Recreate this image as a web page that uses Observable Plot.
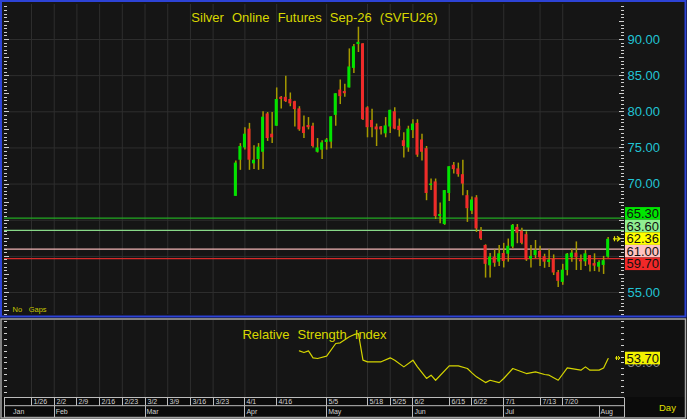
<!DOCTYPE html>
<html>
<head>
<meta charset="utf-8">
<script src="https://cdn.jsdelivr.net/npm/d3@7"></script>
<script src="https://cdn.jsdelivr.net/npm/@observablehq/plot@0.6"></script>
<style>
  html, body { margin:0; padding:0; background:#0d0d0d; }
  #wrap { position:relative; width:687px; height:419px; overflow:hidden; background:#0d0d0d; font-family:"Liberation Sans", Arial, sans-serif; }
  #wrap > svg { position:absolute; left:0; margin:0; display:block; }
  #wrap svg text { word-spacing:4.5px; font-family:"Liberation Sans", Arial, sans-serif; }
</style>
</head>
<body>
<div id="wrap"></div>
<script>
// ---------------- data ----------------
const chartTitle = "Silver Online Futures Sep-26 (SVFU26)";
const rsiTitle = "Relative Strength Index";

// trading-day index of the first candle (1/26 = day 0)
const firstDay = 45;
const opens  = [68.3,73.3,75.0,77.6,72.8,73.4,74.4,79.7,76.9,78.0,82.0,82.0,81.7,81.4,80.4,77.9,78.1,78.0,74.4,74.7,75.75,75.8,79.5,83.0,82.8,83.3,86.0,89.3,89.4,80.55,78.8,77.9,77.9,76.95,77.9,80.0,78.0,76.0,75.0,77.4,78.4,76.1,74.9,69.8,70.3,65.5,64.4,68.7,72.6,72.1,71.3,68.4,66.25,68.1,63.5,61.5,58.7,59.9,59.2,60.4,60.3,61.3,64.0,63.5,63.0,59.6,60.1,60.7,59.95,59.15,59.6,57.75,56.4,58.05,59.8,60.45,59.5,59.25,60.1,59.0,58.5,58.75,59.9];
const highs  = [73.2,75.6,77.8,78.4,75.3,75.6,80.0,79.9,79.9,83.3,82.1,84.9,82.6,81.45,80.7,79.4,79.2,78.4,76.3,76.0,76.3,79.3,82.5,84.4,83.8,88.7,89.3,91.7,89.4,80.7,80.35,78.3,77.95,79.2,80.2,80.55,79.0,77.1,78.0,78.9,78.9,76.9,75.2,70.7,70.7,67.4,69.1,72.4,73.0,72.9,73.3,69.1,68.2,68.4,64.0,61.6,60.4,60.9,61.5,61.8,62.4,64.4,64.4,63.9,63.4,61.5,62.2,61.4,60.3,60.9,60.2,58.05,58.9,60.4,61.0,62.0,60.2,60.8,60.1,60.35,59.4,60.0,62.6];
const lows   = [68.3,71.9,74.7,71.9,72.0,71.9,72.0,75.9,75.6,78.0,80.4,81.3,80.7,77.9,77.3,76.3,77.5,75.0,74.3,73.4,74.7,74.9,78.0,81.0,82.0,83.3,85.3,88.2,78.8,76.4,76.4,75.2,76.8,76.4,77.0,77.5,76.5,73.6,74.4,76.3,73.7,73.2,67.7,69.1,65.1,64.5,64.3,67.6,71.4,70.95,68.4,64.7,65.8,63.3,62.2,57.0,57.0,58.5,58.6,58.4,59.2,61.05,61.75,61.6,59.3,58.4,59.7,58.6,58.35,58.45,57.35,55.7,56.0,57.3,59.2,58.05,58.05,58.6,57.85,57.9,57.8,57.5,59.75];
const closes = [72.9,75.2,76.9,73.3,73.3,75.1,79.25,76.3,76.4,81.7,81.7,81.4,81.1,80.3,77.5,77.0,77.8,75.2,75.0,75.7,76.1,79.3,82.5,82.1,82.5,86.2,89.0,89.6,78.9,77.8,77.8,77.5,77.5,78.05,80.2,77.6,77.4,75.2,77.6,78.3,74.0,74.4,68.7,70.0,65.5,65.8,69.1,72.4,72.0,71.3,70.0,66.6,67.8,63.8,62.4,58.9,59.9,59.05,60.35,59.3,61.4,64.3,63.2,61.8,59.5,60.0,60.8,59.8,59.2,59.5,57.7,56.55,58.1,60.3,60.45,59.8,59.25,60.35,58.8,58.65,59.15,59.4,62.36];

// x axis ticks (trading-day index) and labels
const dateTickDays   = [0,5,10,15,20,25,30,35,40,47,54,65,74,79,84,92,97,104,112,117];
const dateTickLabels = ["1/26","2/2","2/9","2/16","2/23","3/2","3/9","3/16","3/23","4/1","4/16","5/5","5/18","5/25","6/2","6/15","6/22","7/1","7/13","7/20"];
const monthTickDays   = [-16,5,25,47,65,84,104,125];
const monthTickLabels = ["Jan","Feb","Mar","Apr","May","Jun","Jul","Aug"];

// price axis
const priceGrid   = [55,60,65,70,75,80,85,90];
const priceLabels = [55,70,75,80,85,90];

// price levels (boxes on the right)
const levelValues = [65.30, 63.60, 62.36, 61.00, 59.70];
const lastClose = 62.36;

// RSI readings (trading-day index, value)
const rsiDays   = [59,60,61,62,63,65,67,68,70,71,72,73,74,77,79,80,82,84,85,87,88,89,92,94,96,97,98,100,101,103,104,106,109,111,113,114,116,118,121,122,123,125,126,127];
const rsiValues = [60.2,58.8,60.2,54.3,53.7,55.7,66.5,67.1,72.2,74.0,75.0,52.3,50.9,50.9,54.3,52.3,46.6,52.3,46.6,36.7,39.5,35.2,47.5,47.5,45.2,41.5,38.1,33.2,35.2,33.2,36.7,45.2,40.9,42.3,40.1,39.5,35.2,45.7,43.8,46.6,43.8,43.8,45.7,53.7];
const rsiLast = 53.70;
const rsiRef = 50;

// ---------------- styles ----------------
const levelFill = ["#00e600","#90ee90","#ffff00","#ffc2c2","#f02828"];
const levelLine = ["#22aa22","#88d888",null,"#f2b6b6","#d62a2a"];
const gridColor = "#2e2e2e";
const upColor = "#00e400", downColor = "#f02a2a", wickColor = "#a69a00";
const yellow = "#d8d800", cyan = "#22c4d4";

const candles = opens.map((o, i) => ({day: firstDay + i, open: o, high: highs[i], low: lows[i], close: closes[i]}));
const rsiPts = rsiDays.map((d, i) => ({day: d, value: rsiValues[i]}));

const xDomain = [-5.95, 130.6];
const wrap = document.getElementById("wrap");

// ---------- background ----------
const bg = d3.create("svg").attr("width", 687).attr("height", 419).style("top", "0px");
bg.append("rect").attr("x", 0).attr("y", 0).attr("width", 687).attr("height", 419).attr("fill", "#0d0d0d");
bg.append("rect").attr("x", 2).attr("y", 2).attr("width", 683).attr("height", 314).attr("fill", "#151515");
bg.append("rect").attr("x", 2).attr("y", 320).attr("width", 683).attr("height", 77).attr("fill", "#151515");
bg.append("rect").attr("x", 624).attr("y", 320).attr("width", 61).attr("height", 77).attr("fill", "#111111");
wrap.appendChild(bg.node());

// ---------- top price chart ----------
const levelRuleMarks = levelValues.map((v, i) => levelLine[i] ? Plot.ruleY([v], {stroke: levelLine[i], strokeWidth: 1.2}) : null).filter(Boolean);

const topChart = Plot.plot({
  width: 687, height: 318,
  marginLeft: 4, marginRight: 63, marginTop: 4, marginBottom: 4,
  x: {domain: xDomain, axis: null},
  y: {domain: [51.96, 94.84], axis: null},
  style: {background: "transparent", overflow: "visible"},
  marks: [
    Plot.ruleX(dateTickDays, {stroke: gridColor}),
    Plot.ruleY(priceGrid, {stroke: gridColor}),
    ...levelRuleMarks,
    Plot.ruleX(candles, {x: "day", y1: "low", y2: "high", stroke: wickColor, strokeWidth: 1.5}),
    Plot.rect(candles.filter(d => d.close >= d.open), {x1: d => d.day - 0.33, x2: d => d.day + 0.33, y1: "open", y2: "close", fill: upColor}),
    Plot.rect(candles.filter(d => d.close < d.open), {x1: d => d.day - 0.33, x2: d => d.day + 0.33, y1: "open", y2: "close", fill: downColor}),
    Plot.text(priceLabels, {y: d => d, text: d => d3.format(".2f")(d), frameAnchor: "right", textAnchor: "start", dx: 3, fill: cyan, fontSize: 13}),
    Plot.text([chartTitle], {frameAnchor: "top", dy: 8, fill: yellow, fontSize: 13}),
    Plot.text(["No Gaps"], {frameAnchor: "bottom-left", textAnchor: "start", dx: 8, dy: -3, fill: "#c8c800", fontSize: 7.5})
  ]
});
topChart.style.top = "0px";
wrap.appendChild(topChart);

const ys = topChart.scale("y");
const tsel = d3.select(topChart);

// edge ticks
const tg = tsel.append("g").attr("stroke", "#cfcfcf").attr("stroke-width", 1);
d3.range(52, 94.6, 0.5).forEach(v => {
  const y = Math.round(ys.apply(v)) + 0.5;
  const len = (v % 2.5 === 0) ? 5 : 3;
  tg.append("line").attr("x1", 4).attr("x2", 4 + len).attr("y1", y).attr("y2", y);
  tg.append("line").attr("x1", 624 - len).attr("x2", 624).attr("y1", y).attr("y2", y);
});

// level boxes with stacking
const boxH = 12.6;
const ideal = levelValues.map(v => ys.apply(v));
let clusters = ideal.map((y, i) => ({idx: [i], n: 1, sum: y, top: y - boxH / 2}));
let changed = true;
while (changed) {
  changed = false;
  for (let k = 0; k < clusters.length - 1; k++) {
    const a = clusters[k], b = clusters[k + 1];
    if (a.top + a.n * boxH > b.top + 0.01) {
      const m = {idx: a.idx.concat(b.idx), n: a.n + b.n, sum: a.sum + b.sum};
      m.top = m.sum / m.n - boxH / 2 - (m.n - 1) * boxH / 2;
      clusters.splice(k, 2, m);
      changed = true;
      break;
    }
  }
}
const boxTop = [];
clusters.forEach(c => c.idx.forEach((i, j) => { boxTop[i] = c.top + j * boxH; }));
const lg = tsel.append("g").attr("text-anchor", "start");
levelValues.forEach((v, i) => {
  lg.append("rect").attr("x", 625).attr("y", boxTop[i]).attr("width", 35).attr("height", boxH).attr("fill", levelFill[i]);
  lg.append("text").attr("x", 626.5).attr("y", boxTop[i] + boxH / 2).attr("dy", "0.36em")
    .attr("text-anchor", "start").attr("font-size", 13).attr("fill", "#111").text(v.toFixed(2));
});

// last price arrow
const ay = ys.apply(lastClose);
const ag = tsel.append("g").attr("stroke", "#e6e600").attr("stroke-width", 1.2).attr("fill", "none");
ag.append("path").attr("d", `M613,${ay} H620 M617,${ay - 2.5} L620,${ay} L617,${ay + 2.5} M614.5,${ay - 2.5} V${ay + 2.5}`);

// ---------- RSI panel ----------
const rsiChart = Plot.plot({
  width: 687, height: 79,
  marginLeft: 4, marginRight: 63, marginTop: 2, marginBottom: 0,
  x: {domain: xDomain, axis: null},
  y: {domain: [20.5, 86.1], axis: null},
  style: {background: "transparent", overflow: "visible"},
  marks: [
    Plot.ruleX(dateTickDays, {stroke: gridColor}),
    Plot.text([rsiTitle], {frameAnchor: "top", dy: 9.5, fill: yellow, fontSize: 13}),
    Plot.text([rsiRef], {y: d => d, text: d => d.toFixed(2), frameAnchor: "right", textAnchor: "start", dx: 3, fill: "#8a8a8a", fontSize: 13}),
    Plot.line(rsiPts, {x: "day", y: "value", stroke: "#d4d400", strokeWidth: 1.2})
  ]
});
rsiChart.style.top = "318px";
wrap.appendChild(rsiChart);

const rs = rsiChart.scale("y");
const xs = rsiChart.scale("x");
const rsel = d3.select(rsiChart);
const rtg = rsel.append("g").attr("stroke", "#cfcfcf").attr("stroke-width", 1);
d3.range(25, 86, 5).forEach(v => {
  const y = Math.round(rs.apply(v)) + 0.5;
  rtg.append("line").attr("x1", 4).attr("x2", 7).attr("y1", y).attr("y2", y);
  rtg.append("line").attr("x1", 621).attr("x2", 624).attr("y1", y).attr("y2", y);
});
const ry = rs.apply(rsiLast);
rsel.append("rect").attr("x", 625).attr("y", ry - 6.3).attr("width", 35).attr("height", 12.6).attr("fill", "#f2f200");
rsel.append("text").attr("x", 626.5).attr("y", ry).attr("dy", "0.36em").attr("text-anchor", "start")
  .attr("font-size", 13).attr("fill", "#111").text(rsiLast.toFixed(2));
rsel.append("path").attr("d", `M615,${ry} H620 M618,${ry - 2} L620,${ry} L618,${ry + 2} M616.5,${ry - 2} V${ry + 2}`)
  .attr("stroke", "#e6e600").attr("stroke-width", 1).attr("fill", "none");

// ---------- date / month strip ----------
const strip = d3.create("svg").attr("width", 687).attr("height", 22).style("top", "397px");
strip.append("rect").attr("x", 0).attr("y", 0).attr("width", 687).attr("height", 22).attr("fill", "#0b0b0b");
const L = 4, R = 624, r0 = 0.5, r1 = 8.7, r2 = 20.3;
const sg = strip.append("g").attr("stroke", "#bcbcbc").attr("stroke-width", 1);
[r0, r1, r2].forEach(y => sg.append("line").attr("x1", L).attr("x2", R).attr("y1", y).attr("y2", y));
[L, R].forEach(x => sg.append("line").attr("x1", x + 0.5).attr("x2", x + 0.5).attr("y1", r0).attr("y2", r2));
const tgx = strip.append("g").attr("fill", "#d2d2d2").attr("font-size", 7).attr("text-anchor", "start")
  .attr("font-family", "Liberation Sans, Arial, sans-serif");
dateTickDays.forEach((d, i) => {
  const x = Math.round(xs.apply(d)) + 0.5;
  sg.append("line").attr("x1", x).attr("x2", x).attr("y1", r0).attr("y2", r1);
  tgx.append("text").attr("x", x + 2).attr("y", 7.2).text(dateTickLabels[i]);
});
monthTickDays.forEach((d, i) => {
  const raw = xs.apply(d);
  const x = Math.round(raw) + 0.5;
  if (raw > L) sg.append("line").attr("x1", x).attr("x2", x).attr("y1", r1).attr("y2", r2);
  tgx.append("text").attr("x", Math.max(raw, L + 7) + 2).attr("y", 17.2).text(monthTickLabels[i]);
});
strip.append("text").attr("x", 659).attr("y", 14).attr("font-size", 9.5).attr("fill", "#e0e000")
  .attr("font-family", "Liberation Sans, Arial, sans-serif").text("Day");
wrap.appendChild(strip.node());

// ---------- panel frames ----------
const ov = d3.create("svg").attr("width", 687).attr("height", 419).style("top", "0px").style("pointer-events", "none");
ov.append("rect").attr("x", 1).attr("y", 1).attr("width", 684.5).attr("height", 315.5).attr("fill", "none").attr("stroke", "#2d43d6").attr("stroke-width", 2);
ov.append("rect").attr("x", 1).attr("y", 319).attr("width", 684.5).attr("height", 99).attr("fill", "none").attr("stroke", "#a8a8a8").attr("stroke-width", 1.5);
wrap.appendChild(ov.node());
</script>
</body>
</html>
